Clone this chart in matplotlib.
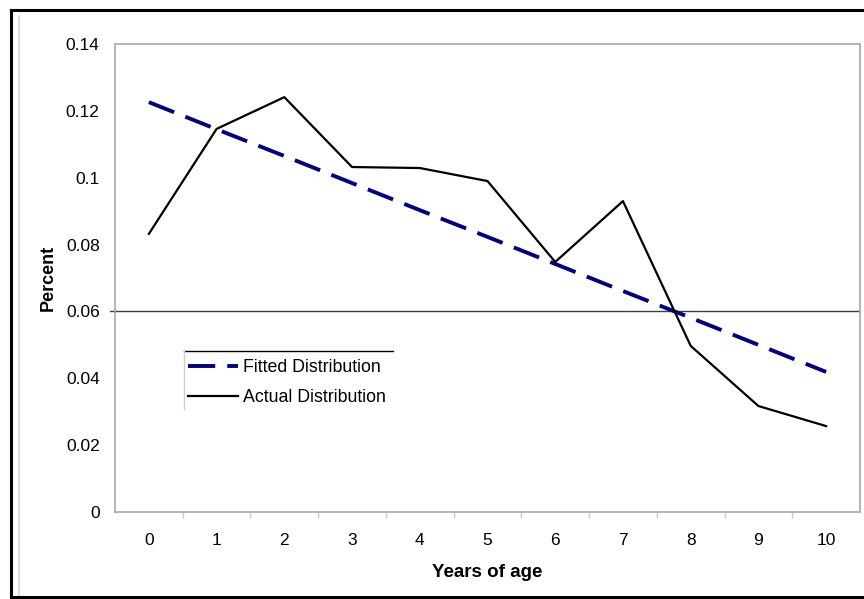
import matplotlib
matplotlib.use("Agg")
import matplotlib.pyplot as plt
from matplotlib.lines import Line2D

plt.rcParams['font.family'] = ['Liberation Sans', 'DejaVu Sans']

years = [0, 1, 2, 3, 4, 5, 6, 7, 8, 9, 10]
actual = [0.0832, 0.1146, 0.1241, 0.1032, 0.1029, 0.0990, 0.0748, 0.0930, 0.0497, 0.0317, 0.0257]
fitted = [0.1226, 0.1145, 0.1065, 0.0984, 0.0903, 0.0823, 0.0742, 0.0661, 0.0581, 0.0500, 0.0419]
yticks = [0, 0.02, 0.04, 0.06, 0.08, 0.1, 0.12, 0.14]
ytick_labels = ['0', '0.02', '0.04', '0.06', '0.08', '0.1', '0.12', '0.14']
ref_line = 0.06

FS = 12.5

fig = plt.figure(figsize=(8.64, 5.99), dpi=100)
ax = fig.add_axes([115/864, 1-512/599, 745/864, 468/599])

ax.plot(years, fitted, color='#000080', lw=2.8, dashes=(7.0, 3.1), label='Fitted Distribution',
        solid_capstyle='butt', dash_capstyle='butt')
ax.plot(years, actual, color='black', lw=1.6, label='Actual Distribution')

ax.axhline(ref_line, color='#404040', lw=1.0, zorder=1)
ax.plot([-0.58, -0.5], [ref_line, ref_line], color='#404040', lw=1.0, clip_on=False)

ax.set_xlim(-0.5, 10.5)
ax.set_ylim(0, 0.14)
ax.set_yticks(yticks)
ax.set_yticklabels(ytick_labels)
ax.set_xticks(years)
ax.set_xticks([x + 0.5 for x in years[:-1]], minor=True)
ax.tick_params(axis='y', length=0, pad=11, labelsize=FS)
ax.tick_params(axis='x', which='major', length=0, pad=15, labelsize=FS)
ax.tick_params(axis='x', which='minor', length=4, color='#c8c8c8', width=1)

for s in ax.spines.values():
    s.set_color('#a8a8a8')
    s.set_linewidth(1.2)

ax.set_ylabel('Percent', fontweight='bold', fontsize=13)
ax.yaxis.set_label_coords((57-115)/745, 0.5)
ax.set_xlabel('Years of age', fontweight='bold', fontsize=13.5)
ax.xaxis.set_label_coords(0.5, (512-564)/468)

leg = ax.legend(loc='upper left', bbox_to_anchor=((188-115)/745, (512-359)/468), fontsize=FS + 0.3,
                frameon=False, handlelength=2.8, handletextpad=0.3, borderpad=0,
                labelspacing=0.75, borderaxespad=0)

# legend frame pieces (top black, left light gray)
ax.plot([(184-115)/745, (393-115)/745], [(512-351)/468]*2, color='black', lw=1.0,
        transform=ax.transAxes, clip_on=False)
ax.plot([(184-115)/745]*2, [(512-351)/468, (512-409)/468], color='#d0d0d0', lw=1.0,
        transform=ax.transAxes, clip_on=False)

# figure border (Excel-like)
fig.add_artist(Line2D([11/864, 11/864], [1-10/599, 1-597/599], color='black', lw=2.2, transform=fig.transFigure))
fig.add_artist(Line2D([11/864, 1.0], [1-10/599, 1-10/599], color='black', lw=2.2, transform=fig.transFigure))
fig.add_artist(Line2D([11/864, 1.0], [1-597/599, 1-597/599], color='black', lw=2.2, transform=fig.transFigure))
fig.add_artist(Line2D([19/864, 19/864], [1-16/599, 1-595/599], color='#dcdcdc', lw=1.5, transform=fig.transFigure))

fig.savefig('out.png', dpi=100)
